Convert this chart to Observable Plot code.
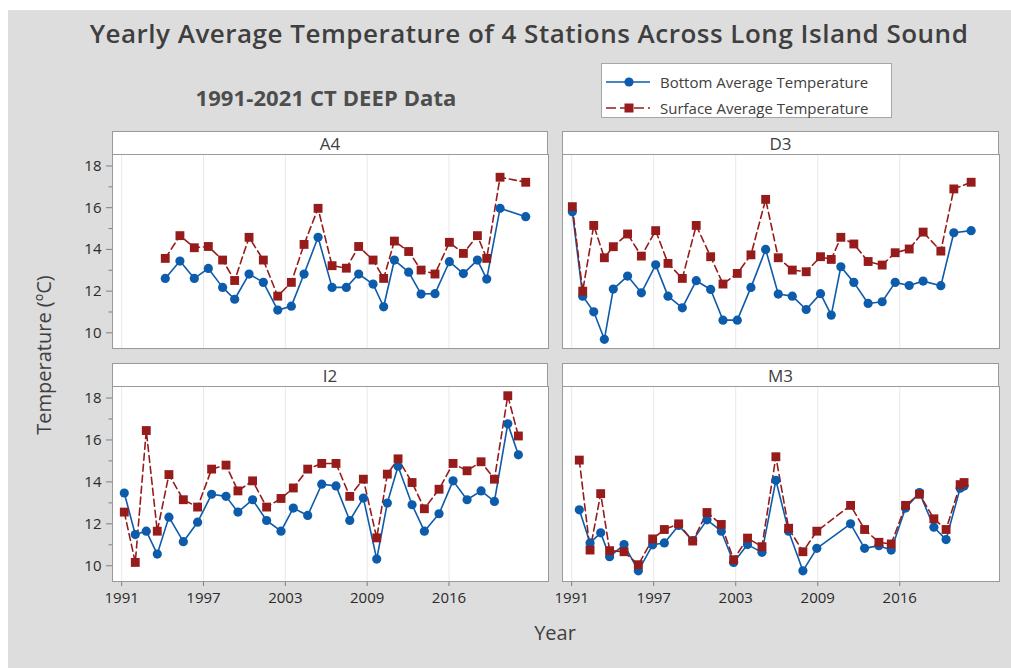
<!DOCTYPE html>
<html>
<head>
<meta charset="utf-8">
<script src="https://cdn.jsdelivr.net/npm/d3@7"></script>
<script src="https://cdn.jsdelivr.net/npm/@observablehq/plot@0.6"></script>
<style>
  body { margin: 0; background: #ffffff; font-family: "Open Sans", sans-serif; }
  #page { position: relative; width: 1011px; height: 668px; overflow: hidden; }
  #bg { position: absolute; left: 8px; top: 10px; width: 1003px; height: 658px; background: #dddddd; }
  .abs { position: absolute; }
  #title { left: 0; width: 1058px; top: 20px; text-align: center; font-size: 26px; line-height: 26px; letter-spacing: 0.5px; font-weight: 600; color: #3f3f3f; white-space: nowrap; }
  #subtitle { left: 126px; width: 400px; top: 86px; text-align: center; font-size: 22px; line-height: 22px; letter-spacing: 0.1px; font-weight: 700; color: #4d4d4d; white-space: nowrap; }
  #legend { left: 601px; top: 63px; width: 291px; height: 55px; box-sizing: border-box; border: 1px solid #a6a6a6; background: #fff; }
  .lrow { position: absolute; left: 0; height: 20px; width: 289px; }
  .lrow svg { position: absolute; left: 4px; top: 0; }
  .lrow span { position: absolute; left: 58px; top: 0; line-height: 20px; font-size: 15px; color: #404040; white-space: nowrap; }
  .strip { box-sizing: border-box; border: 1px solid #9a9a9a; background: #fff; display: flex; align-items: center; justify-content: center; font-size: 17px; color: #404040; height: 24px; }
  #ylab { left: 43px; top: 355px; transform: translate(-50%, -50%) rotate(-90deg); font-size: 20px; color: #404040; white-space: nowrap; }
  #xlab { left: 455px; width: 200px; top: 623px; text-align: center; font-size: 20px; line-height: 20px; color: #404040; }
</style>
</head>
<body>
<div id="page">
  <div id="bg"></div>
  <div id="title" class="abs">Yearly Average Temperature of 4 Stations Across Long Island Sound</div>
  <div id="subtitle" class="abs">1991-2021 CT DEEP Data</div>
  <div id="legend" class="abs">
    <div class="lrow" style="top:8px">
      <svg width="46" height="20"><line x1="0" y1="10" x2="44" y2="10" stroke="#0d5bab" stroke-width="1.6"/><circle cx="23" cy="10" r="4.6" fill="#0d5bab"/></svg>
      <span>Bottom Average Temperature</span>
    </div>
    <div class="lrow" style="top:34px">
      <svg width="46" height="20"><line x1="0" y1="10" x2="44" y2="10" stroke="#961b1b" stroke-width="1.6" stroke-dasharray="10,4"/><rect x="18.5" y="5.5" width="9" height="9" fill="#961b1b"/></svg>
      <span>Surface Average Temperature</span>
    </div>
  </div>
  <div id="ylab" class="abs">Temperature (ºC)</div>
  <div id="xlab" class="abs">Year</div>
</div>
<script>
// ---- data ----
const stations = ["A4", "D3", "I2", "M3"];
const seriesNames = ["Bottom Average Temperature", "Surface Average Temperature"];

const tickYears = [1991, 1997.25, 2003.5, 2009.75, 2016];
const tickLabels = ["1991", "1997", "2003", "2009", "2016"];
const tempTicks = [10, 12, 14, 16, 18];
const tempMinorTicks = [11, 13, 15, 17];

const a4Time = [1994.33, 1995.45, 1996.55, 1997.62, 1998.71, 1999.63, 2000.73, 2001.82, 2002.92, 2003.96, 2004.93, 2006.0, 2007.07, 2008.16, 2009.1, 2010.2, 2011.01, 2011.83, 2012.92, 2013.87, 2014.93, 2016.03, 2017.1, 2018.17, 2018.88, 2019.9, 2021.86];
const a4Bottom = [12.61, 13.44, 12.61, 13.09, 12.18, 11.61, 12.82, 12.42, 11.09, 11.28, 12.82, 14.58, 12.18, 12.18, 12.82, 12.34, 11.25, 13.49, 12.91, 11.86, 11.88, 13.41, 12.84, 13.49, 12.58, 15.97, 15.57];
const a4Surface = [13.57, 14.66, 14.08, 14.14, 13.49, 12.51, 14.58, 13.49, 11.76, 12.42, 14.24, 15.97, 13.22, 13.1, 14.14, 13.49, 12.61, 14.4, 13.9, 13.01, 12.82, 14.34, 13.81, 14.66, 13.57, 17.46, 17.22];

const d3Time = [1991.05, 1991.84, 1992.68, 1993.49, 1994.17, 1995.26, 1996.31, 1997.4, 1998.34, 1999.43, 2000.49, 2001.59, 2002.53, 2003.62, 2004.66, 2005.78, 2006.74, 2007.81, 2008.87, 2009.96, 2010.78, 2011.51, 2012.5, 2013.59, 2014.66, 2015.65, 2016.72, 2017.78, 2019.13, 2020.12, 2021.44];
const d3Bottom = [15.81, 11.76, 11.01, 9.69, 12.1, 12.72, 11.92, 13.26, 11.76, 11.2, 12.5, 12.08, 10.61, 10.61, 12.18, 14.0, 11.86, 11.76, 11.12, 11.88, 10.85, 13.17, 12.42, 11.41, 11.49, 12.42, 12.27, 12.48, 12.26, 14.8, 14.9];
const d3Surface = [16.05, 12.0, 15.15, 13.6, 14.13, 14.74, 13.68, 14.9, 13.33, 12.61, 15.15, 13.65, 12.34, 12.85, 13.74, 16.4, 13.6, 13.01, 12.93, 13.65, 13.52, 14.58, 14.26, 13.42, 13.25, 13.84, 14.02, 14.83, 13.92, 16.9, 17.22];

const i2Time = [1991.2, 1992.04, 1992.88, 1993.72, 1994.61, 1995.71, 1996.8, 1997.87, 1998.97, 1999.88, 2001.0, 2002.07, 2003.17, 2004.11, 2005.21, 2006.28, 2007.37, 2008.42, 2009.46, 2010.48, 2011.29, 2012.11, 2013.18, 2014.12, 2015.24, 2016.31, 2017.38, 2018.45, 2019.47, 2020.49, 2021.3];
const i2Bottom = [13.47, 11.49, 11.65, 10.56, 12.32, 11.15, 12.08, 13.41, 13.31, 12.56, 13.15, 12.16, 11.65, 12.75, 12.4, 13.89, 13.81, 12.16, 13.23, 10.32, 12.99, 14.75, 12.91, 11.65, 12.48, 14.05, 13.15, 13.57, 13.07, 16.77, 15.29];
const i2Surface = [12.56, 10.16, 16.45, 11.65, 14.35, 13.15, 12.8, 14.61, 14.8, 13.57, 14.05, 12.8, 13.21, 13.71, 14.61, 14.88, 14.88, 13.31, 14.13, 11.33, 14.37, 15.1, 13.97, 12.72, 13.65, 14.88, 14.53, 14.96, 14.13, 18.11, 16.19];

const m3Time = [1991.58, 1992.4, 1993.21, 1993.89, 1994.99, 1996.08, 1997.17, 1998.06, 1999.15, 2000.22, 2001.31, 2002.4, 2003.34, 2004.4, 2005.5, 2006.56, 2007.53, 2008.62, 2009.68, 2012.25, 2013.32, 2014.41, 2015.35, 2016.44, 2017.5, 2018.6, 2019.53, 2020.6, 2020.9];
const m3Bottom = [12.67, 11.09, 11.57, 10.43, 11.01, 9.76, 11.0, 11.09, 11.92, 11.2, 12.19, 11.65, 10.16, 11.01, 10.64, 14.08, 11.65, 9.76, 10.83, 12.0, 10.83, 10.96, 10.75, 12.75, 13.49, 11.84, 11.25, 13.7, 13.8];
const m3Surface = [15.04, 10.75, 13.44, 10.72, 10.67, 10.05, 11.28, 11.73, 12.0, 11.18, 12.54, 11.97, 10.29, 11.32, 10.91, 15.2, 11.79, 10.67, 11.65, 12.88, 11.73, 11.12, 11.04, 12.88, 13.41, 12.24, 11.73, 13.87, 13.97];

// ---- chart ----
const blue = "#0d5bab";
const red = "#961b1b";
const xDomain = [1990.3, 2023.6];
const yDomain = [9.25, 18.55];

function rowsOf(time, bottom, surface) {
  return time.map((t, i) => ({time: t, bottom: bottom[i], surface: surface[i]}));
}

const panels = [
  {name: stations[0], rows: rowsOf(a4Time, a4Bottom, a4Surface), left: 62, top: 153, col: 0, row: 0},
  {name: stations[1], rows: rowsOf(d3Time, d3Bottom, d3Surface), left: 561, top: 153, col: 1, row: 0},
  {name: stations[2], rows: rowsOf(i2Time, i2Bottom, i2Surface), left: 62, top: 385, col: 0, row: 1},
  {name: stations[3], rows: rowsOf(m3Time, m3Bottom, m3Surface), left: 561, top: 385, col: 1, row: 1}
];

const page = document.getElementById("page");

for (const p of panels) {
  const showY = p.col === 0;
  const showX = p.row === 1;
  const ml = showY ? 50 : 1;
  const mr = 1;
  const mt = 1;
  const mb = showX ? 35 : 1;
  const innerW = showY ? 436 : 437;
  const innerH = p.row === 0 ? 194 : 195;
  const marks = [
    Plot.frame({fill: "white", stroke: null}),
    Plot.gridX(tickYears, {stroke: "#e8e8e8", strokeOpacity: 1}),
    Plot.line(p.rows, {x: "time", y: "bottom", stroke: blue, strokeWidth: 1.6}),
    Plot.line(p.rows, {x: "time", y: "surface", stroke: red, strokeWidth: 1.6, strokeDasharray: "7,4"}),
    Plot.dot(p.rows, {x: "time", y: "bottom", r: 4.6, fill: blue, symbol: "circle"}),
    Plot.dot(p.rows, {x: "time", y: "surface", r: 5, fill: red, symbol: "square"})
  ];
  if (showY) {
    marks.push(Plot.axisY({ticks: tempTicks, tickSize: 6, tickPadding: 5, stroke: "#7f7f7f", fill: "#2a2a2a", label: null, fontSize: 15}));
    marks.push(Plot.axisY({ticks: tempMinorTicks, tickSize: 3.5, tickFormat: () => "", stroke: "#7f7f7f", label: null}));
  }
  if (showX) {
    marks.push(Plot.axisX({ticks: tickYears, tickFormat: d => tickLabels[tickYears.indexOf(d)], tickSize: 5, tickPadding: 6, stroke: "#7f7f7f", fill: "#2a2a2a", label: null, fontSize: 15}));
  }
  marks.push(Plot.frame({stroke: "#9a9a9a"}));

  const chart = Plot.plot({
    width: ml + innerW + mr,
    height: mt + innerH + mb,
    marginLeft: ml, marginRight: mr, marginTop: mt, marginBottom: mb,
    style: {background: "transparent", fontFamily: "Open Sans", fontSize: "15px", overflow: "visible"},
    x: {domain: xDomain, ...(showX ? {} : {axis: null})},
    y: {domain: yDomain, ...(showY ? {} : {axis: null})},
    marks
  });
  chart.style.position = "absolute";
  chart.style.left = p.left + "px";
  chart.style.top = p.top + "px";
  page.appendChild(chart);

  const strip = document.createElement("div");
  strip.className = "strip abs";
  strip.textContent = p.name;
  strip.style.left = (p.left + ml) + "px";
  strip.style.top = (p.top + mt - 23) + "px";
  strip.style.width = innerW + "px";
  page.appendChild(strip);
}
</script>
</body>
</html>
